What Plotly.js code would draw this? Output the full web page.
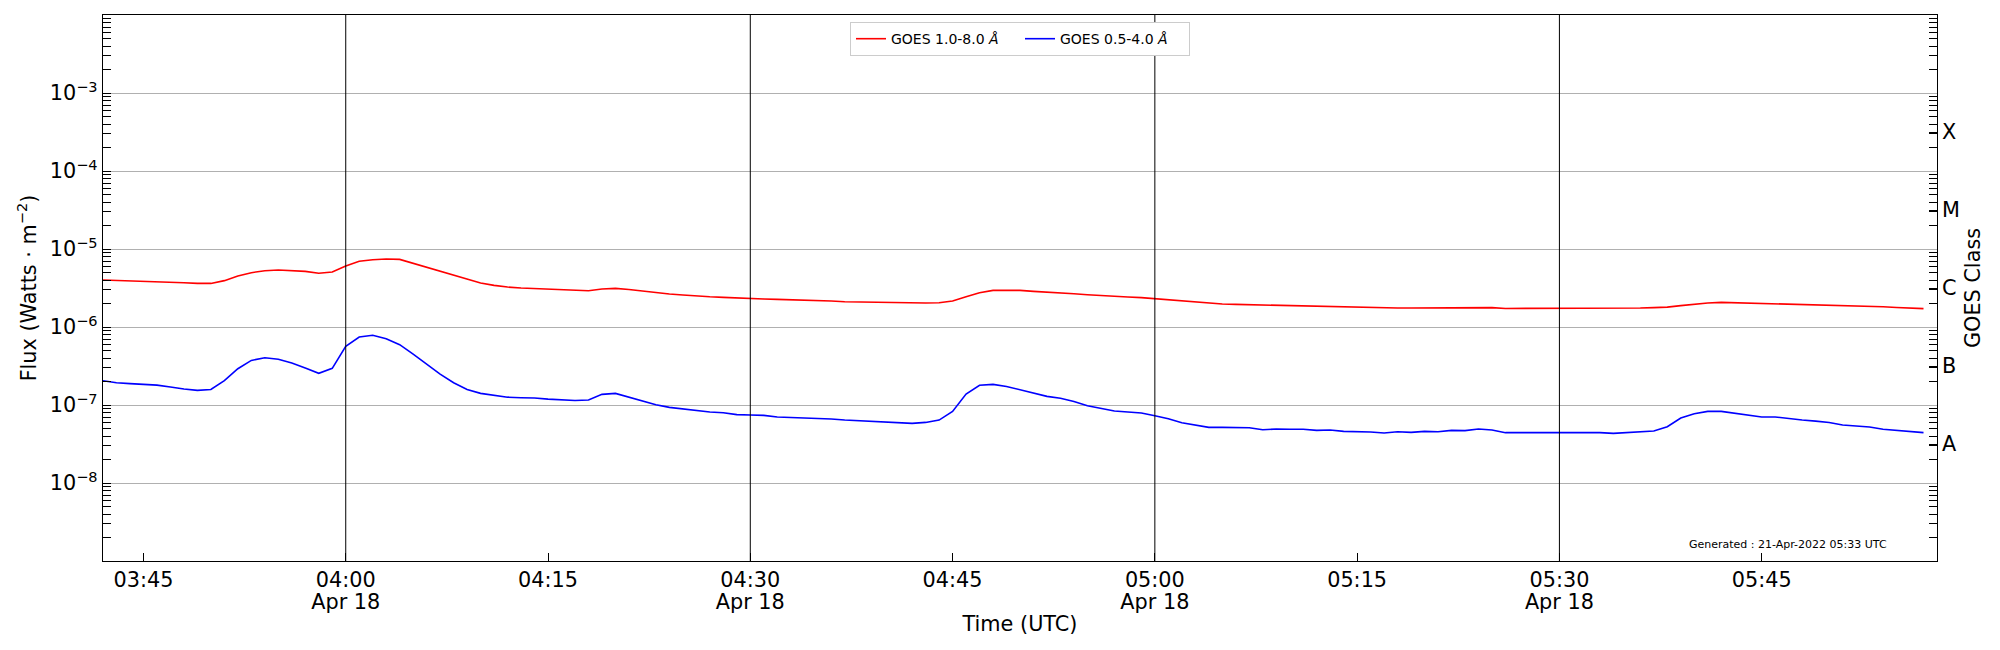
<!DOCTYPE html>
<html>
<head>
<meta charset="utf-8">
<script src="https://cdn.plot.ly/plotly-3.0.1.min.js"></script>
<style>
    html, body { margin: 0; padding: 0; background: #ffffff; }
    #goes-chart { width: 2000px; height: 650px; }
</style>
</head>
<body>
<div id="goes-chart"></div>
<script>
(function() {
    'use strict';

    // GOES X-ray flux, one sample per minute starting 2022-04-18 03:42 UTC
    const startDay = '2022-04-18';
    const startHour = 3;
    const startMinute = 42;

    // 1.0-8.0 A channel (W m^-2)
    const fluxLong = [
        4.00e-6, 3.96e-6, 3.93e-6, 3.88e-6, 3.83e-6, 3.77e-6, 3.70e-6, 3.62e-6, 3.62e-6, 3.93e-6,
        4.51e-6, 4.97e-6, 5.27e-6, 5.37e-6, 5.32e-6, 5.16e-6, 4.88e-6, 5.07e-6, 6.05e-6, 6.95e-6,
        7.29e-6, 7.43e-6, 7.36e-6, 6.54e-6, 5.82e-6, 5.16e-6, 4.55e-6, 4.04e-6, 3.66e-6, 3.42e-6,
        3.25e-6, 3.16e-6, 3.10e-6, 3.04e-6, 2.98e-6, 2.92e-6, 2.92e-6, 3.07e-6, 3.13e-6, 3.03e-6,
        2.89e-6, 2.75e-6, 2.65e-6, 2.57e-6, 2.49e-6, 2.44e-6, 2.40e-6, 2.35e-6, 2.33e-6, 2.29e-6,
        2.26e-6, 2.24e-6, 2.19e-6, 2.17e-6, 2.15e-6, 2.11e-6, 2.09e-6, 2.07e-6, 2.05e-6, 2.03e-6,
        2.03e-6, 2.03e-6, 2.05e-6, 2.15e-6, 2.44e-6, 2.75e-6, 2.95e-6, 2.98e-6, 2.95e-6, 2.86e-6,
        2.81e-6, 2.75e-6, 2.67e-6, 2.59e-6, 2.52e-6, 2.47e-6, 2.42e-6, 2.38e-6, 2.31e-6, 2.24e-6,
        2.15e-6, 2.07e-6, 2.01e-6, 1.97e-6, 1.95e-6, 1.93e-6, 1.91e-6, 1.88e-6, 1.88e-6, 1.86e-6,
        1.84e-6, 1.82e-6, 1.80e-6, 1.78e-6, 1.77e-6, 1.75e-6, 1.75e-6, 1.75e-6, 1.75e-6, 1.75e-6,
        1.77e-6, 1.75e-6, 1.77e-6, 1.77e-6, 1.73e-6, 1.73e-6, 1.72e-6, 1.72e-6, 1.72e-6, 1.72e-6,
        1.73e-6, 1.73e-6, 1.75e-6, 1.75e-6, 1.75e-6, 1.77e-6, 1.80e-6, 1.88e-6, 1.97e-6, 2.03e-6,
        2.07e-6, 2.05e-6, 2.03e-6, 1.99e-6, 1.99e-6, 1.99e-6, 1.97e-6, 1.95e-6, 1.91e-6, 1.88e-6,
        1.86e-6, 1.84e-6, 1.82e-6, 1.78e-6, 1.75e-6, 1.72e-6
    ];

    // 0.5-4.0 A channel (W m^-2)
    const fluxShort = [
        2.05e-7, 1.93e-7, 1.88e-7, 1.86e-7, 1.80e-7, 1.70e-7, 1.60e-7, 1.54e-7, 1.58e-7, 2.05e-7,
        2.92e-7, 3.73e-7, 4.04e-7, 3.85e-7, 3.45e-7, 2.98e-7, 2.55e-7, 2.95e-7, 5.65e-7, 7.43e-7,
        7.82e-7, 7.08e-7, 5.93e-7, 4.50e-7, 3.35e-7, 2.49e-7, 1.93e-7, 1.58e-7, 1.41e-7, 1.32e-7,
        1.26e-7, 1.24e-7, 1.23e-7, 1.19e-7, 1.16e-7, 1.14e-7, 1.16e-7, 1.37e-7, 1.41e-7, 1.26e-7,
        1.11e-7, 1.01e-7, 9.33e-8, 8.87e-8, 8.45e-8, 8.13e-8, 7.96e-8, 7.52e-8, 7.43e-8, 7.36e-8,
        7.02e-8, 6.93e-8, 6.87e-8, 6.81e-8, 6.61e-8, 6.41e-8, 6.30e-8, 6.17e-8, 6.11e-8, 6.05e-8,
        5.82e-8, 5.98e-8, 6.41e-8, 8.28e-8, 1.38e-7, 1.79e-7, 1.84e-7, 1.73e-7, 1.56e-7, 1.41e-7,
        1.29e-7, 1.22e-7, 1.11e-7, 9.79e-8, 8.97e-8, 8.38e-8, 8.13e-8, 7.89e-8, 7.29e-8, 6.68e-8,
        5.93e-8, 5.58e-8, 5.16e-8, 5.16e-8, 5.12e-8, 5.12e-8, 4.82e-8, 4.92e-8, 4.88e-8, 4.88e-8,
        4.73e-8, 4.78e-8, 4.59e-8, 4.59e-8, 4.50e-8, 4.38e-8, 4.55e-8, 4.46e-8, 4.59e-8, 4.55e-8,
        4.73e-8, 4.69e-8, 4.92e-8, 4.78e-8, 4.42e-8, 4.42e-8, 4.42e-8, 4.42e-8, 4.42e-8, 4.42e-8,
        4.46e-8, 4.42e-8, 4.33e-8, 4.42e-8, 4.46e-8, 4.64e-8, 5.27e-8, 6.81e-8, 7.74e-8, 8.28e-8,
        8.28e-8, 7.82e-8, 7.29e-8, 7.02e-8, 7.02e-8, 6.68e-8, 6.41e-8, 6.22e-8, 5.98e-8, 5.53e-8,
        5.43e-8, 5.22e-8, 4.88e-8, 4.69e-8, 4.55e-8, 4.42e-8
    ];

    const seriesNames = ['GOES 1.0-8.0 <i>Å</i>', 'GOES 0.5-4.0 <i>Å</i>'];
    const seriesColors = ['#ff0000', '#0000ff'];

    // x axis ticks
    const tickTimes = ['03:45', '04:00', '04:15', '04:30', '04:45', '05:00', '05:15', '05:30', '05:45'];
    const tickDates = ['', 'Apr 18', '', 'Apr 18', '', 'Apr 18', '', 'Apr 18', ''];
    const xRange = ['2022-04-18 03:42:00', '2022-04-18 05:58:00'];

    // y axis ticks
    const fluxDecades = [1e-8, 1e-7, 1e-6, 1e-5, 1e-4, 1e-3];
    const fluxExponents = ['−8', '−7', '−6', '−5', '−4', '−3'];
    const classLabels = ['A', 'B', 'C', 'M', 'X'];
    const classLevels = [3.162e-8, 3.162e-7, 3.162e-6, 3.162e-5, 3.162e-4];
    const yRangeLog = [-9, -2];

    const generatedText = 'Generated : 21-Apr-2022 05:33 UTC';

    const FONT = 'DejaVu Sans, Liberation Sans, sans-serif';

    function pad(n) {
        return (n < 10 ? '0' : '') + n;
    }

    // sample timestamps, one per minute
    const sampleTimes = fluxLong.map(function(_, i) {
        const total = startHour * 60 + startMinute + i;
        return startDay + ' ' + pad(Math.floor(total / 60)) + ':' + pad(total % 60) + ':00';
    });

    const tickVals = tickTimes.map(t => startDay + ' ' + t + ':00');
    const dateTickVals = tickVals.filter((v, i) => tickDates[i] !== '');
    const dateTickText = tickDates.filter(d => d !== '');

    // minor log ticks 2..9 per decade
    const minorTicks = [];
    for (let e = yRangeLog[0]; e < yRangeLog[1]; e++) {
        for (let m = 2; m <= 9; m++) {
            minorTicks.push(m * Math.pow(10, e));
        }
    }

    const traces = [
        {
            x: sampleTimes, y: fluxLong, type: 'scatter', mode: 'lines',
            name: seriesNames[0], line: { color: seriesColors[0], width: 1.6 }
        },
        {
            x: sampleTimes, y: fluxShort, type: 'scatter', mode: 'lines',
            name: seriesNames[1], line: { color: seriesColors[1], width: 1.6 }
        }
    ];

    // invisible one-point traces so the extra axes (dates, class labels, minor ticks) get drawn
    [['x2', 'y'], ['x', 'y2'], ['x', 'y3'], ['x', 'y4']].forEach(function(pair) {
        traces.push({
            x: [sampleTimes[0]], y: [fluxLong[0]], type: 'scatter', mode: 'markers',
            xaxis: pair[0], yaxis: pair[1], marker: { opacity: 0, size: 1 },
            showlegend: false, hoverinfo: 'skip'
        });
    });

    const tickFont = { family: FONT, size: 20.8, color: '#000000' };

    // black vertical lines at each tick that carries the date
    const dayLines = dateTickVals.map(v => ({
        type: 'line', xref: 'x', yref: 'paper', x0: v, x1: v, y0: 0, y1: 1,
        line: { color: '#000000', width: 1 }, layer: 'above'
    }));

    const logAxisBase = {
        type: 'log', range: yRangeLog, tickmode: 'array', ticks: 'inside',
        ticklen: 8, tickwidth: 1, tickcolor: '#000000', zeroline: false,
        automargin: false, fixedrange: true
    };

    const layout = {
        width: 2000,
        height: 650,
        paper_bgcolor: '#ffffff',
        plot_bgcolor: '#ffffff',
        margin: { l: 103, r: 63, t: 15, b: 89, pad: 0 },
        showlegend: true,
        legend: {
            orientation: 'h', x: 0.5, xanchor: 'center', y: 0.987, yanchor: 'top',
            bgcolor: '#ffffff', bordercolor: '#cccccc', borderwidth: 1,
            entrywidthmode: 'pixels', entrywidth: 124,
            font: { family: FONT, size: 14, color: '#000000' }
        },
        xaxis: {
            type: 'date', range: xRange, tickmode: 'array', tickvals: tickVals, ticktext: tickTimes,
            ticks: 'inside', ticklen: 8, tickwidth: 1, tickcolor: '#000000',
            showgrid: false, zeroline: false, showline: true, mirror: true,
            linecolor: '#000000', linewidth: 1.2, tickfont: tickFont, automargin: false,
            title: { text: 'Time (UTC)', font: tickFont, standoff: 25 }
        },
        // second row of x labels (the date under each half hour)
        xaxis2: {
            type: 'date', range: xRange, overlaying: 'x', anchor: 'y', side: 'bottom',
            tickmode: 'array', tickvals: dateTickVals, ticktext: dateTickText,
            ticks: '', showgrid: false, zeroline: false, showline: false,
            tickfont: tickFont, ticklabelstandoff: 26, automargin: false
        },
        yaxis: Object.assign({}, logAxisBase, {
            tickvals: fluxDecades,
            ticktext: fluxExponents.map(e => '10<sup>' + e + '</sup>'),
            showgrid: true, gridcolor: '#b0b0b0', gridwidth: 1,
            showline: true, mirror: true, linecolor: '#000000', linewidth: 1.2,
            tickfont: tickFont,
            title: { text: 'Flux (Watts · m<sup>−2</sup>)', font: tickFont, standoff: 7 }
        }),
        yaxis2: Object.assign({}, logAxisBase, {
            overlaying: 'y', side: 'right', tickvals: classLevels, ticktext: classLabels,
            showgrid: false, showline: false, tickfont: tickFont, ticklabelstandoff: 4,
            title: { text: 'GOES Class', font: tickFont, standoff: 6 }
        }),
        yaxis3: Object.assign({}, logAxisBase, {
            overlaying: 'y', side: 'left', tickvals: minorTicks,
            showticklabels: false, showgrid: false, showline: false
        }),
        yaxis4: Object.assign({}, logAxisBase, {
            overlaying: 'y', side: 'right', tickvals: minorTicks,
            showticklabels: false, showgrid: false, showline: false
        }),
        shapes: dayLines,
        annotations: [{
            xref: 'paper', yref: 'paper', x: 0.9738, y: 0.030,
            xanchor: 'right', yanchor: 'middle', showarrow: false,
            text: generatedText,
            font: { family: FONT, size: 11, color: '#000000' }
        }]
    };

    const config = { displayModeBar: false, responsive: false, staticPlot: true };

    Plotly.newPlot('goes-chart', traces, layout, config);
})();
</script>
</body>
</html>
